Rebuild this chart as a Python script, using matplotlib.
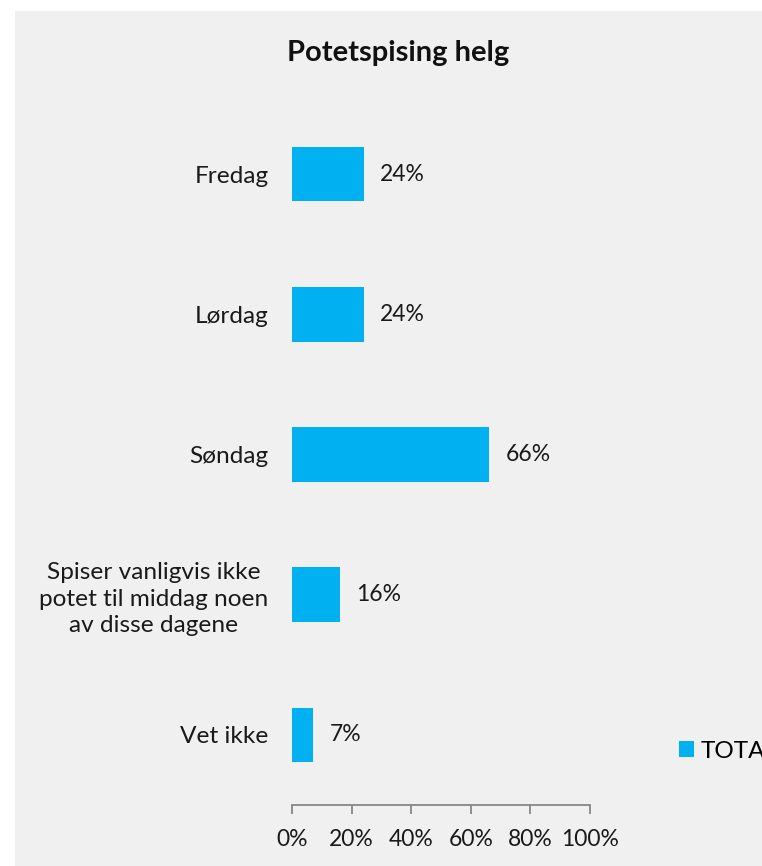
import matplotlib
matplotlib.use("Agg")
import matplotlib.pyplot as plt
from matplotlib.patches import Rectangle

plt.rcParams['font.family'] = ['Lato', 'DejaVu Sans']

# data
kategorier = ["Fredag", "Lørdag", "Søndag",
              "Spiser vanligvis ikke\npotet til middag noen\nav disse dagene",
              "Vet ikke"]
andel = [24, 24, 66, 16, 7]
x_ticks = [0, 20, 40, 60, 80, 100]
serie = "TOTAL"

BLA = "#00B0F0"
GRA = "#F0F0F0"
W, H = 762, 866
FS = 16.5

fig = plt.figure(figsize=(W / 100, H / 100), dpi=100)
fig.patch.set_facecolor("white")
# grå bakgrunn med hvit kant oppe og til venstre
fig.patches.append(Rectangle((15 / W, 0), 1 - 15 / W, 1 - 11 / H,
                             transform=fig.transFigure, facecolor=GRA,
                             edgecolor="none", zorder=-5))

ax = fig.add_axes([292 / W, 61 / H, 298 / W, 701 / H])
ax.set_facecolor("none")

pos = list(range(len(kategorier)))
bars = ax.barh(pos, andel, height=0.39, color=BLA, label=serie)

for b, v in zip(bars, andel):
    ax.annotate(f"{v}%", (b.get_width(), b.get_y() + b.get_height() / 2),
                xytext=(12, 0), textcoords="offset points",
                ha="left", va="center", fontsize=FS, color="#1a1a1a")

ax.set_xlim(0, 100)
ax.set_ylim(4.5, -0.5)
ax.set_yticks(pos)
ax.set_yticklabels(kategorier, fontsize=17.6, color="#1a1a1a",
                   multialignment="center", linespacing=1.32)
ax.tick_params(axis="y", length=0, pad=17)
ax.set_xticks(x_ticks)
ax.set_xticklabels([f"{t}%" for t in x_ticks], fontsize=FS, color="#1a1a1a")
ax.tick_params(axis="x", length=6.5, width=1.3, color="#868686", pad=11)

for s in ["top", "right", "left"]:
    ax.spines[s].set_visible(False)
ax.spines["bottom"].set_color("#868686")
ax.spines["bottom"].set_linewidth(1.3)

fig.text(398 / W, 1 - 53 / H, "Potetspising helg", ha="center", va="center",
         fontsize=21, fontweight="bold", color="#111111")

# legenden er skåret av ved høyre kant, som i originalen
fig.legend(handles=[bars], labels=[serie], loc="center left",
           bbox_to_anchor=(679 / W, 1 - 751 / H), frameon=False,
           fontsize=17.5, handlelength=0.6, handleheight=0.6,
           handletextpad=0.3, borderpad=0, borderaxespad=0)

fig.savefig("out.png", dpi=100, facecolor=fig.get_facecolor())
